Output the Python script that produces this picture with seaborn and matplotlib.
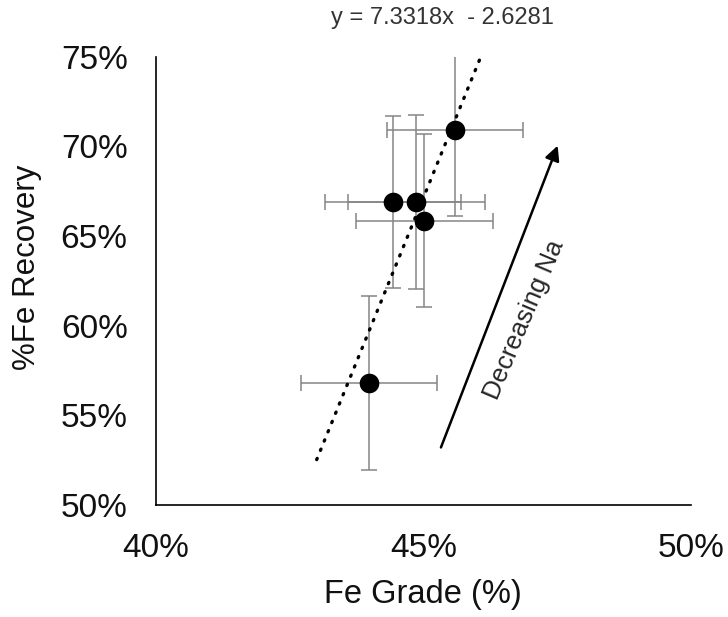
"""
Fe recovery vs Fe grade scatter with error bars and linear trendline.
"""

import numpy as np
import matplotlib
matplotlib.use('Agg')
import matplotlib.pyplot as plt
from matplotlib.ticker import PercentFormatter
import pandas as pd
import seaborn as sns

# Data (fractions)
fe_grade = [0.4559, 0.4443, 0.4487, 0.4502, 0.4399]
fe_recovery = [0.7092, 0.6690, 0.6690, 0.6586, 0.5683]
grade_err = [0.0127, 0.0127, 0.0128, 0.0128, 0.0127]
recovery_err = [0.0479, 0.0478, 0.0483, 0.0482, 0.0485]

# Excel trendline
trend_slope = 7.3318
trend_intercept = -2.6281
trend_x = [0.4301, 0.4612]
trend_label = 'y = 7.3318x  - 2.6281'

# Annotation arrow (tail, head) and label
arrow_tail = (0.4533, 0.5321)
arrow_head = (0.4751, 0.7004)
arrow_text = 'Decreasing Na'
arrow_text_pos = (0.4688, 0.6035)

x_ticks = [0.40, 0.45, 0.50]
y_ticks = [0.50, 0.55, 0.60, 0.65, 0.70, 0.75]

sns.set_theme(style='white')
plt.rcParams['font.family'] = ['Liberation Sans', 'DejaVu Sans']

df = pd.DataFrame({'grade': fe_grade, 'recovery': fe_recovery})

fig = plt.figure(figsize=(7.28, 6.17), dpi=100)
ax = fig.add_axes([0.2136, 0.1815, 0.7356, 0.7266])

# Error bars first so the markers sit on top
ax.errorbar(fe_grade, fe_recovery, xerr=grade_err, yerr=recovery_err,
            fmt='none', ecolor='#858585', elinewidth=1.1, capsize=5.8,
            capthick=1.1, zorder=2)

sns.scatterplot(data=df, x='grade', y='recovery', ax=ax, color='black',
                s=200, edgecolor='black', linewidth=0, zorder=3)

# Trendline from the fitted equation
tx = np.array(trend_x)
ty = trend_slope * tx + trend_intercept
ax.plot(tx, ty, color='black', lw=2.4, linestyle=(0, (0.4, 2.6)),
        dash_capstyle='round', zorder=4)

ax.annotate('', xy=arrow_head, xytext=arrow_tail,
            arrowprops=dict(arrowstyle='-|>', color='black', lw=1.8,
                            mutation_scale=22, shrinkA=0, shrinkB=0))
ax.text(arrow_text_pos[0], arrow_text_pos[1], arrow_text, fontsize=18.5,
        rotation=67, rotation_mode='anchor', ha='center', va='center')

fig.text(0.608, 0.971, trend_label, fontsize=17, color='#333333',
         ha='center', va='center')

ax.set_xlim(0.40, 0.50)
ax.set_ylim(0.50, 0.75)
ax.set_xticks(x_ticks)
ax.set_yticks(y_ticks)
ax.xaxis.set_major_formatter(PercentFormatter(xmax=1, decimals=0))
ax.yaxis.set_major_formatter(PercentFormatter(xmax=1, decimals=0))
ax.tick_params(axis='both', length=0, labelsize=24, colors='#111111')
ax.tick_params(axis='x', pad=20)
ax.tick_params(axis='y', pad=20)

sns.despine(ax=ax)
for side in ['left', 'bottom']:
    ax.spines[side].set_color('black')
    ax.spines[side].set_linewidth(1.2)

ax.set_xlabel('Fe Grade (%)', fontsize=23.5, color='#111111')
ax.set_ylabel('%Fe Recovery', fontsize=22.5, color='#111111')
ax.xaxis.set_label_coords(0.5, -0.165)
ax.yaxis.set_label_coords(-0.212, 0.53)

plt.savefig('out.png', dpi=100)
